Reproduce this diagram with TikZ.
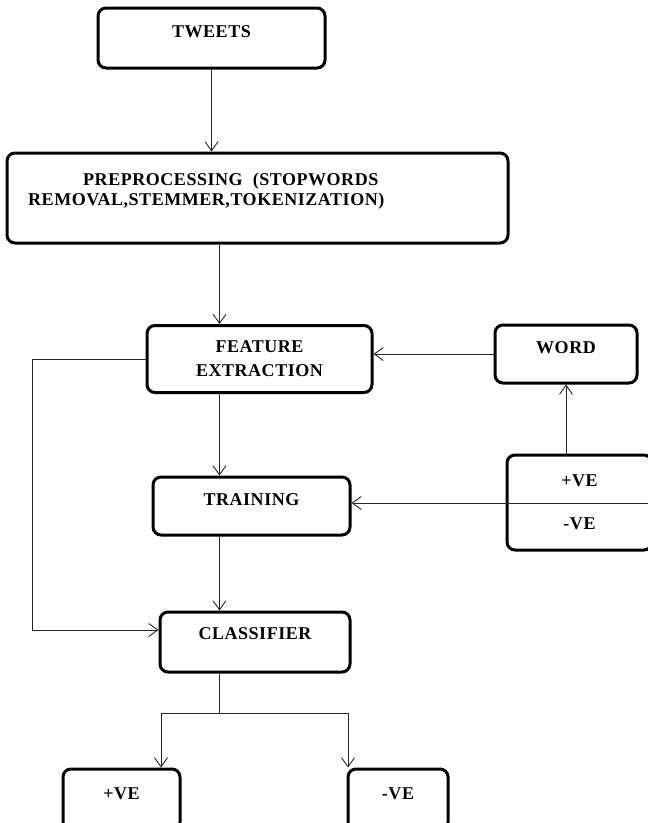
\documentclass[tikz,border=0pt]{standalone}
\usepackage{fontspec}
\setmainfont{Liberation Serif}[LetterSpace=3]
\usetikzlibrary{arrows.meta}
\begin{document}
\begin{tikzpicture}[x=1pt,y=-1pt,
  box/.style={draw=black, line width=3pt, rounded corners=8pt, inner sep=0pt,
    align=center, font=\bfseries\fontsize{18}{20}\selectfont},
  up/.style={text height=12pt, text depth=#1},
  txt/.style={inner sep=0pt, font=\bfseries\fontsize{18}{20}\selectfont},
  conn/.style={draw=black!85, line width=0.9pt},
  arr/.style={conn, -{Straight Barb[length=9pt,width=13pt,line width=0.9pt]}}]
\useasboundingbox (0,0) rectangle (648,823);
\clip (0,0) rectangle (648,823);

% boxes
\node[box, up=14pt, minimum width=227pt, minimum height=60pt] (tw) at (211.5,38) {TWEETS};
\node[box, minimum width=501pt, minimum height=90pt] (pre) at (257.5,198) {};
\node[txt, anchor=base west] (pre1) at (83,185) {PREPROCESSING\ \ (STOPWORDS};
\node[txt, anchor=base west] (pre2) at (28,205) {REMOVAL,STEMMER,TOKENIZATION)};
\node[box, minimum width=225pt, minimum height=67pt] (fe) at (259.5,359) {FEATURE\\[4pt]EXTRACTION};
\node[box, up=14pt, minimum width=142pt, minimum height=58pt] (word) at (566,354) {WORD};
\node[box, minimum width=145pt, minimum height=95pt] (pm) at (579.5,502.5) {+VE\\[23pt]-VE};
\node[box, up=14pt, minimum width=197pt, minimum height=58pt] (tr) at (251.5,506) {TRAINING};
\node[box, up=18pt, minimum width=190pt, minimum height=60pt] (cl) at (255,642) {CLASSIFIER};
\node[box, up=13pt, minimum width=117pt, minimum height=61pt] (pos) at (121.5,799.5) {+VE};
\node[box, up=13pt, minimum width=100pt, minimum height=61pt] (neg) at (398,799.5) {-VE};

% helper coordinates
\coordinate (sp) at (219.5,0);
\coordinate (lb) at (32,630);
\coordinate (re) at (648,503);
\coordinate (split) at (219.5,713);
\coordinate (lp) at (161,713);
\coordinate (rp) at (348,713);

% connectors
\draw[arr] (tw.south) -- (tw.south |- pre.north);
\draw[arr] (pre.south -| sp) -- (fe.north -| sp);
\draw[arr] (fe.south -| sp) -- (tr.north -| sp);
\draw[arr] (tr.south -| sp) -- (cl.north -| sp);
\draw[arr] (word.west) -- (word.west -| fe.east);
\draw[arr] (pm.north -| word.south) -- (word.south);
\draw[arr] (re) -- (re -| tr.east);
\draw[arr] (fe.west) -| (lb) -- (lb -| cl.west);
\draw[conn] (cl.south -| split) -- (split);
\draw[arr] (split) -- (lp) -- (lp |- pos.north);
\draw[arr] (split) -- (rp) -- (rp |- neg.north);
\end{tikzpicture}
\end{document}
